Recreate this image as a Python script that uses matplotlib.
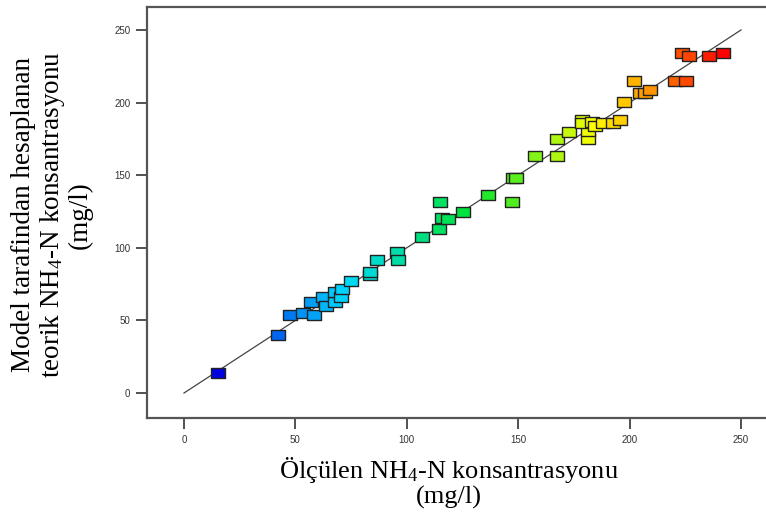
import matplotlib.pyplot as plt
from matplotlib.colors import LinearSegmentedColormap, Normalize

plt.rcParams['font.family'] = ['Liberation Serif', 'DejaVu Serif']
plt.rcParams['mathtext.fontset'] = 'custom'
plt.rcParams['mathtext.rm'] = 'Liberation Serif'
plt.rcParams['mathtext.it'] = 'Liberation Serif:italic'

# measured (actual) vs model predicted NH4-N, mg/l
measured = [15.3, 42.2, 47.6, 53.4, 58.3, 57.0, 62.4, 63.7, 67.8, 67.8,
            70.5, 70.9, 75.0, 83.5, 83.5, 86.6, 95.6, 96.0, 107.0, 114.5,
            116.0, 118.5, 115.0, 125.0, 136.4, 147.0, 147.7, 149.0, 157.5, 167.4,
            167.4, 172.8, 181.3, 181.3, 178.6, 178.6, 183.0, 184.5, 188.0, 192.5,
            195.7, 197.5, 202.0, 204.7, 207.0, 209.0, 220.4, 225.3, 223.5, 226.7,
            235.6, 242.0]
predicted = [13.8, 40.0, 53.7, 55.0, 53.7, 62.7, 66.0, 60.0, 62.7, 69.6,
             66.0, 71.6, 77.0, 81.0, 83.0, 91.6, 97.0, 91.6, 107.5, 113.0,
             120.5, 120.0, 131.5, 124.6, 136.4, 131.5, 148.0, 148.0, 163.0, 163.0,
             175.0, 179.7, 175.0, 180.4, 188.0, 186.0, 186.6, 184.0, 186.0, 186.0,
             188.0, 200.4, 214.9, 206.6, 206.6, 208.7, 214.9, 214.9, 234.0, 232.0,
             232.0, 234.0]
fit_x = [0, 250]
fit_y = [0, 250]
ticks = [0, 50, 100, 150, 200, 250]

cmap = LinearSegmentedColormap.from_list(
    'de', ['#0000e0', '#00d8ff', '#00e430', '#ffff00', '#ff0000'])
norm = Normalize(min(measured), max(measured))

fig = plt.figure(figsize=(7.66, 5.18), dpi=100)
ax = fig.add_axes([147 / 766, 1 - 418 / 518, 1 - 147 / 766, (418 - 7) / 518])

ax.plot(fit_x, fit_y, color='#444444', lw=0.9, zorder=2)

rect = [(-1.5, -1), (1.5, -1), (1.5, 1), (-1.5, 1), (-1.5, -1)]
for x, y in zip(measured, predicted):
    ax.plot([x], [y], marker=rect, ms=9.8, mfc=cmap(norm(x)), mec='#222222',
            mew=1.0, ls='none', zorder=3)

ax.set_xlim(-16.6, 261.2)
ax.set_ylim(-17.2, 265.8)
ax.set_xticks(ticks)
ax.set_yticks(ticks)
ax.tick_params(direction='out', length=8, width=1.2, color='#333333',
               labelsize=7, pad=4, labelcolor='#333333')
for lab in ax.get_xticklabels() + ax.get_yticklabels():
    lab.set_family('Liberation Sans')

for s in ['left', 'top', 'bottom']:
    ax.spines[s].set_color('#555555')
    ax.spines[s].set_linewidth(1.6)
ax.spines['right'].set_visible(False)

fig.text(449 / 766, 1 - 482 / 518, 'Ölçülen NH$_4$-N konsantrasyonu\n(mg/l)',
         fontsize=19, linespacing=1.08, ha='center', va='center',
         multialignment='center')
fig.text(52 / 766, 1 - 215 / 518,
         'Model tarafindan hesaplanan\nteorik NH$_4$-N konsantrasyonu\n(mg/l)',
         fontsize=19.5, linespacing=1.08, ha='center', va='center',
         rotation=90, multialignment='center')

fig.savefig('out.png', dpi=100)
